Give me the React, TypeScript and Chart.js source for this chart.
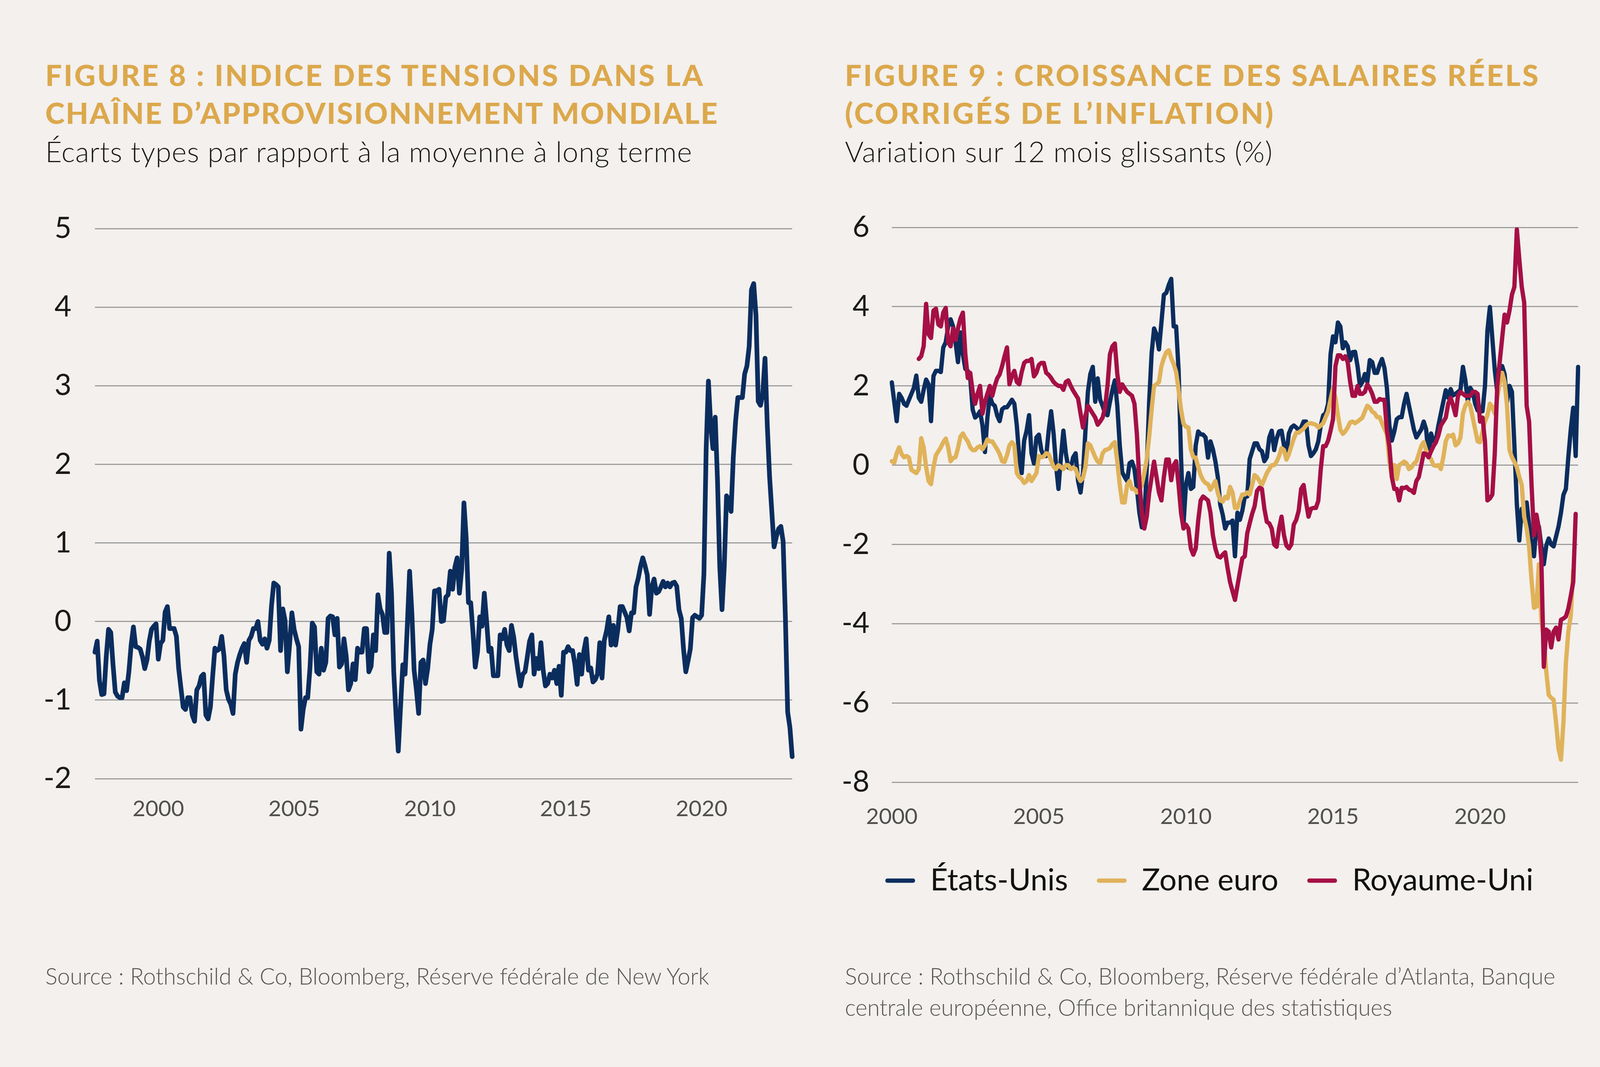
import React, { useEffect, useRef } from 'react';
import { Chart, registerables } from 'chart.js';

Chart.register(...registerables);

// ---------- Colours & fonts ----------
const BG = '#F3F0ED';
const NAVY = '#0B2D5E';
const GOLD = '#E0B25A';
const CRIMSON = '#A50F45';
const TITLE_GOLD = '#DCA84C';
const GRID = '#9E9E9E';
const FONT = "Lato, 'Open Sans', sans-serif";

// ---------- Figure 8 data (monthly, from Sep 1997) ----------
const fig8Start = { year: 1997, month: 9 };
const fig8TickYears = [2000, 2005, 2010, 2015, 2020];
const fig8YTicks = { min: -2, max: 5, step: 1 };
const gscpiValues = [
  -0.39, -0.25, -0.75, -0.93, -0.92, -0.45, -0.10, -0.14, -0.55, -0.90, -0.95, -0.97,
  -0.97, -0.78, -0.88, -0.64, -0.30, -0.07, -0.32, -0.33, -0.35, -0.45, -0.60, -0.49,
  -0.25, -0.10, -0.06, -0.03, -0.48, -0.28, -0.24, 0.12, 0.19, -0.09, -0.09, -0.09,
  -0.19, -0.60, -0.85, -1.09, -1.12, -0.97, -0.97, -1.19, -1.27, -0.87, -0.82, -0.70,
  -0.67, -1.19, -1.24, -1.09, -0.70, -0.34, -0.37, -0.35, -0.19, -0.44, -0.87, -0.99,
  -1.05, -1.17, -0.67, -0.52, -0.42, -0.34, -0.28, -0.52, -0.24, -0.19, -0.09, -0.09,
  0.00, -0.24, -0.29, -0.22, -0.34, -0.24, 0.20, 0.49, 0.47, 0.44, -0.37, 0.16,
  0.01, -0.64, -0.29, 0.11, -0.10, -0.22, -0.32, -1.37, -1.12, -0.97, -0.97, -0.59,
  -0.02, -0.07, -0.64, -0.67, -0.34, -0.62, -0.52, 0.04, 0.07, 0.06, -0.17, 0.04,
  -0.58, -0.54, -0.22, -0.44, -0.87, -0.79, -0.54, -0.74, -0.34, -0.39, -0.39, -0.09,
  -0.09, -0.64, -0.57, -0.17, -0.37, 0.34, 0.16, 0.09, -0.14, -0.14, 0.87, 0.36,
  -0.64, -1.19, -1.65, -1.09, -0.55, -0.67, -0.05, 0.64, 0.11, -0.62, -0.87, -1.17,
  -0.52, -0.49, -0.79, -0.60, -0.29, -0.10, 0.39, 0.39, 0.41, 0.00, 0.01, 0.31,
  0.34, 0.64, 0.41, 0.69, 0.81, 0.36, 0.66, 1.51, 1.06, 0.24, 0.24, -0.14,
  -0.58, -0.39, 0.06, -0.06, 0.36, 0.01, -0.38, -0.34, -0.69, -0.69, -0.69, -0.17,
  -0.22, -0.10, -0.30, -0.37, -0.05, -0.20, -0.45, -0.65, -0.82, -0.67, -0.64, -0.45,
  -0.25, -0.17, -0.67, -0.47, -0.60, -0.27, -0.62, -0.82, -0.79, -0.67, -0.72, -0.62,
  -0.79, -0.57, -0.94, -0.39, -0.39, -0.32, -0.37, -0.37, -0.54, -0.80, -0.42, -0.67,
  -0.37, -0.22, -0.62, -0.59, -0.77, -0.74, -0.67, -0.27, -0.72, -0.24, -0.12, 0.06,
  -0.30, -0.05, -0.30, -0.10, 0.19, 0.19, 0.12, 0.05, -0.12, 0.11, 0.11, 0.44,
  0.55, 0.70, 0.81, 0.71, 0.59, 0.09, 0.44, 0.54, 0.36, 0.38, 0.44, 0.51,
  0.44, 0.49, 0.44, 0.49, 0.50, 0.45, 0.15, 0.04, -0.35, -0.64, -0.50, -0.35,
  0.05, 0.08, 0.06, 0.04, 0.08, 0.60, 2.20, 3.06, 2.50, 2.20, 2.60, 1.80,
  0.70, 0.15, 0.70, 1.60, 1.55, 1.40, 2.10, 2.55, 2.85, 2.85, 2.85, 3.15,
  3.25, 3.50, 4.22, 4.30, 3.90, 2.80, 2.75, 2.90, 3.35, 2.50, 1.85, 1.40,
  0.95, 1.08, 1.18, 1.21, 1.02, 0.05, -1.15, -1.35, -1.72,
];

// ---------- Figure 9 data (monthly, from Jan 2000) ----------
const fig9Start = { year: 2000, month: 1 };
const fig9TickYears = [2000, 2005, 2010, 2015, 2020];
const fig9YTicks = { min: -8, max: 6, step: 2 };
const seriesNames = ['États-Unis', 'Zone euro', 'Royaume-Uni'];
const usWages = [
  2.09, 1.6, 1.11, 1.8, 1.7, 1.55, 1.5, 1.65, 1.8, 1.95, 2.26, 1.7,
  1.6, 1.9, 2.16, 2.04, 1.11, 2.25, 2.38, 2.38, 2.35, 2.97, 3.1, 3.5,
  3.68, 3.5, 3.1, 2.6, 3.35, 2.8, 2.43, 2.38, 2.2, 1.4, 1.2, 1.26,
  1.36, 1.0, 0.33, 1.2, 1.75, 1.55, 1.5, 1.25, 1.11, 1.41, 1.46, 1.46,
  1.55, 1.65, 1.55, 1.0, 0.2, -0.2, 0.62, 0.87, 1.26, 0.3, 0.04, 0.7,
  0.77, 0.38, 0.23, 0.23, 0.87, 1.36, 0.8, 0.0, -0.6, 0.2, 0.87, 0.3,
  -0.06, -0.08, 0.2, 0.3, -0.4, -0.69, -0.2, 0.87, 1.85, 2.3, 2.48, 1.6,
  2.19, 1.65, 1.5, 1.3, 1.26, 1.6, 1.9, 2.14, 1.5, 0.5, -0.18, -0.3,
  -0.4, 0.05, 0.09, -0.1, -0.6, -1.2, -1.57, -1.4, -0.1, 1.6, 2.82, 3.45,
  3.3, 2.92, 3.6, 4.3, 4.35, 4.55, 4.7, 3.5, 3.5, 2.4, 0.2, -1.5,
  -0.5, -0.2, -0.6, -0.55, 0.5, 0.85, 0.78, 0.77, 0.7, 0.19, 0.6, 0.4,
  0.1, -0.3, -1.0, -1.25, -1.6, -1.45, -1.45, -1.4, -2.3, -1.2, -1.38, -1.15,
  -0.8, -0.79, 0.15, 0.35, 0.55, 0.55, 0.4, 0.35, 0.1, 0.2, 0.7, 0.87,
  0.38, 0.67, 0.85, 0.87, 0.5, 0.3, 0.8, 0.95, 1.0, 0.95, 0.88, 0.95,
  1.1, 1.1, 0.5, 0.23, 0.3, 0.4, 0.6, 1.0, 1.26, 1.31, 1.55, 2.8,
  3.25, 3.1, 3.6, 3.5, 2.95, 3.1, 3.0, 2.65, 2.85, 2.86, 2.5, 2.0,
  2.1, 2.3, 2.1, 2.65, 2.6, 2.33, 2.33, 2.53, 2.68, 2.45, 1.94, 1.0,
  0.62, 0.85, 1.16, 1.21, 1.21, 1.55, 1.8, 1.5, 1.2, 0.9, 0.7, 0.8,
  0.9, 1.1, 0.9, 0.2, 0.8, 0.6, 0.65, 1.0, 1.3, 1.6, 1.89, 1.7,
  1.92, 1.76, 1.8, 1.85, 1.9, 2.48, 2.14, 1.6, 1.95, 1.85, 1.55, 1.38,
  1.36, 1.36, 2.0, 3.4, 3.99, 3.2, 2.4, 1.85, 2.45, 2.5, 2.3, 1.6,
  2.0, 1.85, 0.5, -0.99, -1.9, -1.1, -1.4, -0.94, -1.5, -2.0, -2.3, -1.5,
  -1.55, -2.06, -2.5, -2.03, -1.85, -2.0, -2.05, -1.8, -1.55, -1.2, -0.75, -0.6,
  0.2, 0.9, 1.45, 0.23, 2.48,
];
const ezWages = [
  0.1, 0.06, 0.3, 0.45, 0.28, 0.2, 0.23, 0.19, -0.12, -0.16, -0.2, -0.1,
  0.68, 0.45, -0.05, -0.4, -0.48, -0.05, 0.25, 0.35, 0.45, 0.58, 0.67, 0.45,
  0.1, 0.18, 0.2, 0.43, 0.72, 0.8, 0.69, 0.6, 0.45, 0.38, 0.38, 0.45,
  0.48, 0.4, 0.5, 0.65, 0.6, 0.6, 0.5, 0.4, 0.28, 0.1, 0.08, 0.25,
  0.5, 0.58, 0.5, -0.2, -0.3, -0.35, -0.45, -0.4, -0.25, -0.4, -0.3, -0.2,
  0.23, 0.2, 0.22, 0.3, 0.28, 0.12, -0.04, -0.1, 0.0, -0.05, -0.1, 0.0,
  0.0, -0.1, -0.06, -0.1, -0.28, -0.4, -0.32, -0.05, 0.55, 0.5, 0.35, 0.2,
  0.09, 0.05, 0.3, 0.38, 0.4, 0.43, 0.53, 0.58, 0.09, -0.5, -0.94, -0.94,
  -0.5, -0.4, -0.6, -0.6, -0.69, -0.62, -0.5, -0.2, 0.15, 0.72, 1.4, 2.0,
  2.04, 2.1, 2.5, 2.7, 2.85, 2.9, 2.7, 2.55, 2.35, 1.9, 1.4, 1.05,
  0.97, 0.95, 0.4, 0.2, 0.19, -0.05, -0.25, -0.38, -0.45, -0.48, -0.62, -0.52,
  -0.4, -0.7, -0.89, -0.92, -0.8, -0.84, -0.55, -0.69, -1.08, -1.08, -0.9, -0.74,
  -0.74, -0.69, -0.74, -0.5, -0.25, -0.3, -0.4, -0.5, -0.35, -0.2, -0.1, 0.0,
  0.0, 0.09, 0.23, 0.43, 0.38, 0.14, 0.28, 0.48, 0.67, 0.82, 0.82, 0.87,
  0.92, 1.0, 1.05, 1.06, 1.04, 1.02, 0.95, 1.0, 1.06, 1.21, 1.36, 1.65,
  1.94, 1.7, 1.26, 0.9, 0.79, 0.85, 0.95, 1.08, 1.1, 1.06, 1.1, 1.15,
  1.2, 1.36, 1.5, 1.45, 1.35, 1.31, 1.21, 1.21, 1.06, 0.92, 0.77, 0.1,
  -0.3, 0.0, -0.35, 0.0, 0.04, 0.09, 0.05, -0.1, -0.06, 0.04, 0.09, 0.28,
  0.48, 0.58, 0.38, 0.23, 0.15, 0.0, -0.02, 0.0, -0.1, 0.2, 0.6, 0.75,
  0.73, 0.77, 0.5, 0.55, 0.7, 1.3, 1.5, 1.6, 1.5, 1.2, 0.9, 0.6,
  0.58, 0.85, 1.1, 1.26, 1.55, 1.46, 1.3, 1.7, 2.05, 2.33, 2.1, 1.5,
  0.38, 0.2, 0.08, -0.05, -0.3, -0.5, -1.3, -1.6, -2.06, -2.9, -3.6, -3.57,
  -2.5, -3.9, -4.4, -5.2, -5.8, -5.87, -5.92, -6.5, -7.15, -7.43, -6.5, -5.0,
  -4.2, -3.8, -2.65,
];
const ukWages = [
  null, null, null, null, null, null, null, null, null, null, null, 2.68,
  2.75, 3.0, 4.07, 3.3, 3.21, 3.9, 3.95, 3.55, 3.5, 3.85, 3.97, 3.1,
  3.0, 3.45, 3.16, 3.45, 3.7, 3.85, 2.8, 2.2, 2.33, 1.85, 1.55, 1.8,
  2.0, 1.3, 1.6, 1.8, 2.0, 1.75, 2.0, 2.19, 2.29, 2.5, 2.75, 2.97,
  2.04, 2.25, 2.38, 2.1, 2.04, 2.35, 2.58, 2.63, 2.63, 2.68, 2.24, 2.33,
  2.53, 2.58, 2.58, 2.33, 2.28, 2.2, 2.1, 2.04, 2.0, 2.0, 1.9, 2.1,
  2.14, 2.0, 1.88, 1.78, 1.68, 1.3, 0.95, 1.25, 1.5, 1.4, 1.3, 1.2,
  1.02, 1.1, 1.2, 1.45, 2.0, 2.8, 3.0, 3.07, 2.3, 1.85, 2.04, 1.94,
  1.85, 1.8, 1.75, 1.55, 0.77, -0.4, -1.2, -1.6, -1.3, -0.7, -0.3, 0.09,
  -0.3, -0.69, -0.89, -0.3, 0.14, 0.14, -0.38, 0.0, 0.1, -0.5, -1.2, -1.6,
  -1.5, -1.6, -2.1, -2.26, -2.1, -1.4, -0.89, -0.79, -0.84, -0.89, -1.2, -1.77,
  -2.1, -2.3, -2.33, -2.26, -2.2, -2.6, -2.95, -3.18, -3.4, -3.05, -2.7, -2.35,
  -2.3, -1.72, -1.47, -1.23, -1.04, -0.65, -0.57, -0.6, -1.1, -1.43, -1.47, -1.6,
  -2.0, -2.06, -1.6, -1.3, -1.77, -2.03, -2.1, -2.0, -1.5, -1.38, -1.15, -0.6,
  -0.5, -0.94, -1.3, -1.1, -1.08, -1.08, -0.9, -0.1, 0.48, 0.48, 0.62, 0.87,
  1.16, 2.5, 2.77, 2.77, 2.68, 2.75, 2.6, 2.1, 1.75, 1.75, 2.0, 1.8,
  1.8, 1.85, 2.04, 1.94, 1.8, 1.6, 1.6, 1.67, 1.65, 1.65, 0.87, 0.48,
  -0.3, -0.6, -0.6, -0.89, -0.57, -0.58, -0.55, -0.62, -0.64, -0.7, -0.4, -0.3,
  0.0, 0.3, 0.28, 0.2, 0.35, 0.48, 0.58, 0.75, 1.0, 1.1, 1.2, 1.55,
  1.7, 1.5, 1.26, 1.75, 1.85, 1.8, 1.75, 1.75, 1.75, 1.85, 1.85, 1.8,
  1.1, 1.2, 0.6, -0.89, -0.84, -0.74, 0.3, 2.0, 2.6, 3.2, 3.8, 3.6,
  3.9, 4.3, 4.5, 5.95, 5.2, 4.5, 4.1, 1.5, 1.1, -0.5, -1.77, -1.25,
  -1.6, -2.4, -5.09, -4.15, -4.2, -4.6, -4.2, -4.1, -4.4, -3.9, -3.87, -3.82,
  -3.62, -3.3, -2.95, -1.23,
];

// ---------- helpers ----------
function monthLabels(startYear: number, startMonth: number, count: number): string[] {
  const out: string[] = [];
  for (let i = 0; i < count; i++) {
    const t = startYear * 12 + (startMonth - 1) + i;
    const y = Math.floor(t / 12);
    const m = (t % 12) + 1;
    out.push(`${y}-${String(m).padStart(2, '0')}`);
  }
  return out;
}

const fig8Labels = monthLabels(fig8Start.year, fig8Start.month, gscpiValues.length);
const fig9Labels = monthLabels(fig9Start.year, fig9Start.month, usWages.length);

function yearTickFilter(labels: string[], years: number[]) {
  return (axis: any) => {
    axis.ticks = axis.ticks.filter((t: any) => {
      const lab = labels[t.value];
      return lab && lab.endsWith('-01') && years.includes(Number(lab.slice(0, 4)));
    });
  };
}

function fig8Config(): any {
  return {
    type: 'line',
    data: {
      labels: fig8Labels,
      datasets: [
        {
          label: 'Indice des tensions',
          data: gscpiValues,
          borderColor: NAVY,
          backgroundColor: NAVY,
          borderWidth: 12,
          pointRadius: 0,
          tension: 0,
          fill: false,
          borderJoinStyle: 'round',
          borderCapStyle: 'round',
        },
      ],
    },
    options: {
      animation: false,
      responsive: false,
      maintainAspectRatio: false,
      devicePixelRatio: 1,
      layout: { padding: { left: 0, right: 72, top: 86, bottom: 0 } },
      plugins: { legend: { display: false }, tooltip: { enabled: false } },
      scales: {
        x: {
          type: 'category',
          grid: { display: false },
          border: { display: false },
          ticks: {
            autoSkip: false,
            maxRotation: 0,
            minRotation: 0,
            padding: 35,
            color: '#505050',
            font: { family: FONT, size: 57 },
            callback: (v: any) => String(fig8Labels[v]).slice(0, 4),
          },
          afterBuildTicks: yearTickFilter(fig8Labels, fig8TickYears),
          afterFit: (axis: any) => { axis.height = 150; },
        },
        y: {
          min: fig8YTicks.min,
          max: fig8YTicks.max,
          ticks: {
            stepSize: fig8YTicks.step,
            padding: 60,
            color: '#1a1a1a',
            font: { family: FONT, size: 75 },
            callback: (v: any) => String(v),
          },
          grid: { color: GRID, lineWidth: 3, drawTicks: false },
          border: { display: false },
          afterFit: (axis: any) => { axis.width = 243; },
        },
      },
    },
  };
}

function fig9Config(): any {
  const colors = [NAVY, GOLD, CRIMSON];
  const values = [usWages, ezWages, ukWages];
  const orders = [3, 2, 1];
  return {
    type: 'line',
    data: {
      labels: fig9Labels,
      datasets: seriesNames.map((name, i) => ({
        label: name,
        data: values[i],
        borderColor: colors[i],
        backgroundColor: colors[i],
        borderWidth: 11,
        pointRadius: 0,
        tension: 0,
        fill: false,
        order: orders[i],
        borderJoinStyle: 'round',
        borderCapStyle: 'round',
      })),
    },
    options: {
      animation: false,
      responsive: false,
      maintainAspectRatio: false,
      devicePixelRatio: 1,
      layout: { padding: { left: 40, right: 70, top: 95, bottom: 0 } },
      plugins: {
        tooltip: { enabled: false },
        legend: {
          display: true,
          position: 'bottom',
          labels: {
            boxWidth: 76,
            boxHeight: 11,
            padding: 74,
            color: '#111111',
            font: { family: FONT, size: 78 },
            generateLabels: (chart: any) =>
              chart.data.datasets.map((ds: any, i: number) => ({
                text: ds.label,
                fillStyle: ds.borderColor,
                strokeStyle: ds.borderColor,
                fontColor: '#111111',
                lineWidth: 0,
                hidden: false,
                datasetIndex: i,
                borderRadius: 5,
              })),
          },
        },
      },
      scales: {
        x: {
          type: 'category',
          grid: { display: false },
          border: { display: false },
          ticks: {
            autoSkip: false,
            maxRotation: 0,
            minRotation: 0,
            padding: 46,
            color: '#505050',
            font: { family: FONT, size: 57 },
            callback: (v: any) => String(fig9Labels[v]).slice(0, 4),
          },
          afterBuildTicks: yearTickFilter(fig9Labels, fig9TickYears),
          afterFit: (axis: any) => { axis.height = 139; },
        },
        y: {
          min: fig9YTicks.min,
          max: fig9YTicks.max,
          ticks: {
            stepSize: fig9YTicks.step,
            padding: 57,
            color: '#1a1a1a',
            font: { family: FONT, size: 75 },
            callback: (v: any) => String(v),
          },
          grid: { color: GRID, lineWidth: 3, drawTicks: false },
          border: { display: false },
          afterFit: (axis: any) => { axis.width = 131; },
        },
      },
    },
  };
}

function ChartCanvas(props: { left: number; top: number; width: number; height: number; makeConfig: () => any }) {
  const ref = useRef<HTMLCanvasElement>(null);
  useEffect(() => {
    if (!ref.current) return;
    const chart = new Chart(ref.current, props.makeConfig());
    return () => chart.destroy();
  }, []);
  return (
    <canvas
      ref={ref}
      width={props.width}
      height={props.height}
      style={{ position: 'absolute', left: props.left, top: props.top, width: props.width, height: props.height }}
    />
  );
}

const titleStyle = (left: number): React.CSSProperties => ({
  position: 'absolute',
  left,
  top: 143,
  fontFamily: FONT,
  fontSize: 75,
  lineHeight: '97px',
  fontWeight: 900,
  letterSpacing: '0.06em',
  color: TITLE_GOLD,
  whiteSpace: 'nowrap',
});

const subStyle = (left: number): React.CSSProperties => ({
  position: 'absolute',
  left,
  top: 343,
  fontFamily: FONT,
  fontSize: 73,
  lineHeight: '88px',
  fontWeight: 300,
  letterSpacing: '1px',
  color: '#1a1a1a',
  whiteSpace: 'nowrap',
});

const sourceStyle = (left: number): React.CSSProperties => ({
  position: 'absolute',
  left,
  top: 2458,
  fontFamily: FONT,
  fontSize: 58.2,
  lineHeight: '80px',
  fontWeight: 300,
  color: '#555555',
  whiteSpace: 'nowrap',
});

export default function App() {
  useEffect(() => {
    document.body.style.margin = '0';
    document.body.style.background = BG;
  }, []);
  return (
    <div style={{ position: 'relative', width: 4224, height: 2731, background: BG, overflow: 'hidden' }}>
      <div style={titleStyle(116)}>
        FIGURE 8 : INDICE DES TENSIONS DANS LA
        <br />
        <span style={{ letterSpacing: '0.039em' }}>CHAÎNE D’APPROVISIONNEMENT MONDIALE</span>
      </div>
      <div style={subStyle(116)}>Écarts types par rapport à la moyenne à long terme</div>
      <ChartCanvas left={0} top={480} width={2100} height={1663} makeConfig={fig8Config} />
      <div style={sourceStyle(116)}>Source : Rothschild &amp; Co, Bloomberg, Réserve fédérale de New York</div>

      <div style={titleStyle(2163)}>
        FIGURE 9 : CROISSANCE DES SALAIRES RÉELS
        <br />
        (CORRIGÉS DE L’INFLATION)
      </div>
      <div style={subStyle(2163)}>Variation sur 12 mois glissants (%)</div>
      <ChartCanvas left={2112} top={480} width={1998} height={1823} makeConfig={fig9Config} />
      <div style={sourceStyle(2163)}>
        Source : Rothschild &amp; Co, Bloomberg, Réserve fédérale d’Atlanta, Banque
        <br />
        centrale européenne, Office britannique des statistiques
      </div>
    </div>
  );
}
